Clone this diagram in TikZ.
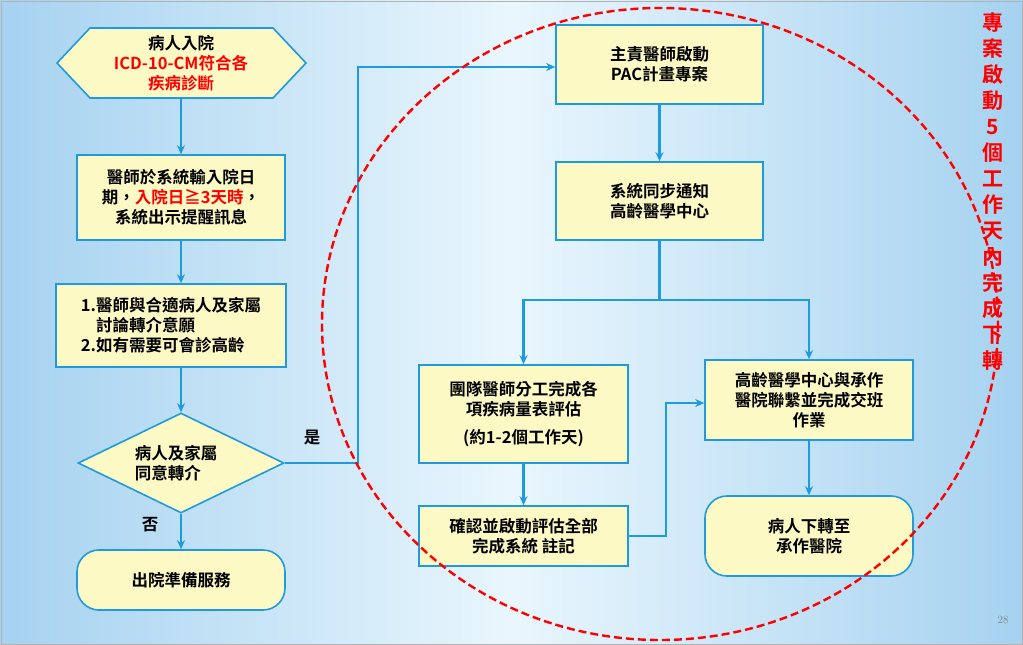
\documentclass[tikz,border=0pt]{standalone}
\usepackage{fontspec}
\newfontfamily\cjk{Noto Sans CJK TC}[BoldFont={* Bold}]
\usetikzlibrary{shapes.geometric,arrows.meta}
\definecolor{lb}{HTML}{1E9BDC}
\definecolor{yf}{HTML}{FDF9C4}
\definecolor{rd}{HTML}{FF0000}
\definecolor{bge}{HTML}{A6D2F0}
\definecolor{bgm}{HTML}{E9F6FD}
\begin{document}
\begin{tikzpicture}[x=1pt,y=-1pt,
  box/.style={draw=lb,line width=1.6pt,fill=yf,align=center,font=\cjk\bfseries\fontsize{16.5}{20}\selectfont,inner sep=2pt},
  arr/.style={draw=lb,line width=2.2pt,-{Stealth[length=9pt,width=8pt]}},
  ln/.style={draw=lb,line width=2.2pt}]
\shade[left color=bge,right color=bge,middle color=bgm] (0,0) rectangle (1023,645);
\draw[gray!60,line width=0.6pt] (1,1) rectangle (1022,644);
\path[box] (57,63)--(90,28)--(273,28)--(306,63)--(273,98)--(90,98)--cycle;
\node[align=center,font=\cjk\bfseries\fontsize{16.5}{20}\selectfont] (hex) at (181,63) {病人入院\\\textcolor{rd}{ICD-10-CM符合各}\\\textcolor{rd}{疾病診斷}};
\coordinate (hexb) at (181,98);
\node[box,minimum width=208,minimum height=85] (b2) at (181,197.5) {醫師於系統輸入院日\\期，\textcolor{rd}{入院日≧3天時}，\\系統出示提醒訊息};
\node[box,minimum width=230,minimum height=83,align=left] (b3) at (171,325.5) {1.醫師與合適病人及家屬\\\phantom{1.}討論轉介意願\\2.如有需要可會診高齡};
\node[box,shape=diamond,aspect=2.06,minimum width=206,minimum height=100,inner sep=0pt] (dia) at (181,463) {};
\node[font=\cjk\bfseries\fontsize{16.5}{20}\selectfont,align=left] at (176,463) {病人及家屬\\同意轉介};
\node[box,rounded corners=22pt,minimum width=208,minimum height=60] (out) at (181,580) {出院準備服務};
\node[font=\cjk\bfseries\fontsize{16.5}{20}\selectfont] at (150,525) {否};
\node[font=\cjk\bfseries\fontsize{16.5}{20}\selectfont] at (312,438) {是};
\node[box,minimum width=207,minimum height=79] (p1) at (659.5,64.5) {主責醫師啟動\\PAC計畫專案};
\node[box,minimum width=207,minimum height=78] (p2) at (659.5,201) {系統同步通知\\高齡醫學中心};
\node[box,minimum width=209,minimum height=98] (t1) at (523.5,414) {團隊醫師分工完成各\\項疾病量表評估\\[8pt](約1-2個工作天)};
\node[box,minimum width=209,minimum height=60] (t2) at (523.5,536) {確認並啟動評估全部\\完成系統 註記};
\node[box,minimum width=208,minimum height=80] (g1) at (809,400) {高齡醫學中心與承作\\醫院聯繫並完成交班\\作業};
\node[box,rounded corners=22pt,minimum width=208,minimum height=80] (g2) at (809,536) {病人下轉至\\承作醫院};
\draw[arr] (hexb)--(b2);
\draw[arr] (b2)--(b2.south|-b3.north);
\draw[arr] (b2.south|-b3.south)--(dia);
\draw[arr] (dia)--(out);
\draw[arr] (dia.east)--(358,463)--(358,67)--(p1.west|-0,67);
\draw[arr] (p1)--(p2);
\coordinate (sp) at (659.5,300);
\draw[ln] (p2.south)--(sp);
\draw[arr] (sp)-|(t1.north);
\draw[arr] (sp)-|(g1.north);
\draw[arr] (t1)--(t2);
\draw[arr] (t2.east)--(666,536)--(666,403)--(g1.west|-0,403);
\draw[arr] (g1)--(g2);
\draw[rd,line width=2.4pt,dash pattern=on 8pt off 4pt] (660,324) ellipse [x radius=338,y radius=316];
\node[rd,font=\cjk\bfseries\fontsize{21}{26}\selectfont,align=center] at (993,192) {專\\案\\啟\\動\\5\\個\\工\\作\\天\\內\\完\\成\\下\\轉};
\node[gray,font=\fontsize{11}{12}\selectfont] at (1003,620) {28};
\end{tikzpicture}
\end{document}
